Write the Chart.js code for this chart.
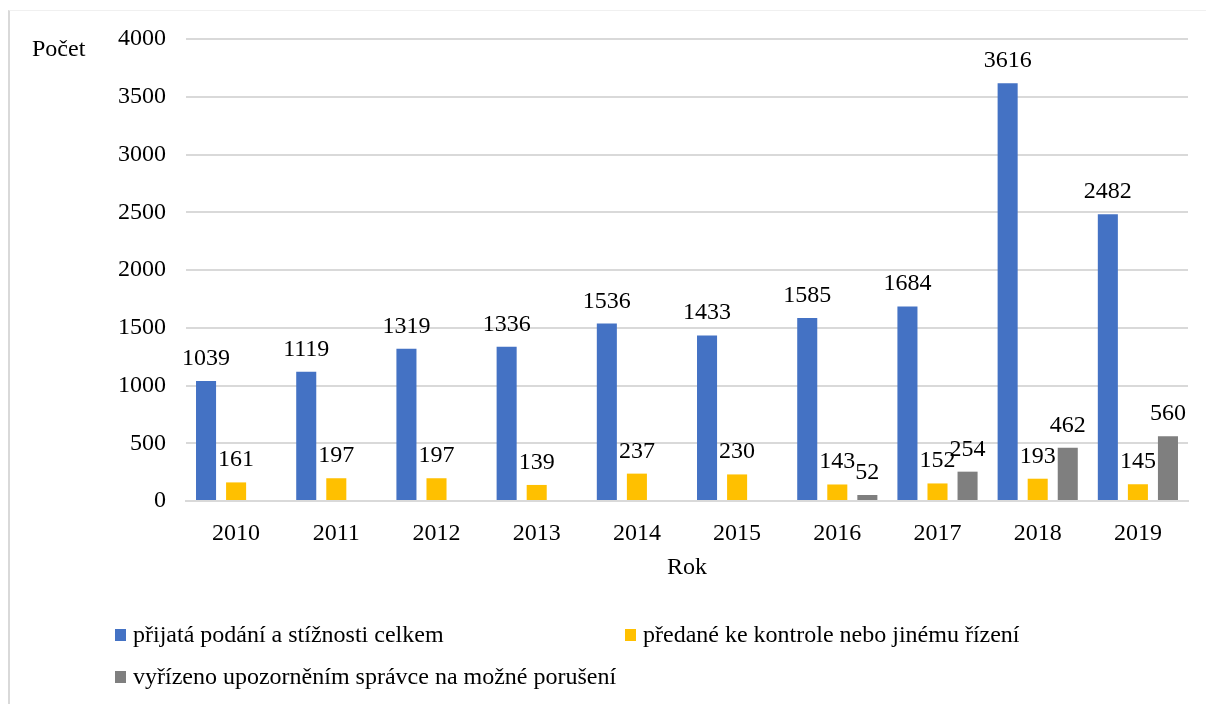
<!DOCTYPE html>
<html>
<head>
<meta charset="utf-8">
<script src="https://cdn.jsdelivr.net/npm/chart.js@4/dist/chart.umd.min.js"></script>
<style>
  html, body { margin: 0; padding: 0; background: #fff; }
  #wrap { position: relative; width: 1206px; height: 704px; }
  #frame { position: absolute; left: 8px; top: 10px; width: 1198px; height: 694px;
           border-left: 2px solid #d9d9d9; border-top: 1px solid #f0f0f0; box-sizing: border-box; }
  canvas { position: absolute; left: 0; top: 0; }
</style>
</head>
<body>
<div id="wrap">
  <div id="frame"></div>
  <canvas id="c" width="1206" height="704"></canvas>
</div>
<script>
const years = ['2010', '2011', '2012', '2013', '2014', '2015', '2016', '2017', '2018', '2019'];
const received = [1039, 1119, 1319, 1336, 1536, 1433, 1585, 1684, 3616, 2482];
const forwarded = [161, 197, 197, 139, 237, 230, 143, 152, 193, 145];
const warned = [null, null, null, null, null, null, 52, 254, 462, 560];
const seriesNames = [
  'přijatá podání a stížnosti celkem',
  'předané ke kontrole nebo jinému řízení',
  'vyřízeno upozorněním správce na možné porušení'
];
const yTicks = [0, 500, 1000, 1500, 2000, 2500, 3000, 3500, 4000];

const FONT = "'Liberation Serif', 'Times New Roman', serif";
const FS = 24;

// Value labels above each bar, legend and the y caption
const annotate = {
  id: 'annotate',
  afterDatasetsDraw(chart) {
    const ctx = chart.ctx;
    ctx.save();
    ctx.font = FS + 'px ' + FONT;
    ctx.fillStyle = '#000';
    ctx.textAlign = 'center';
    ctx.textBaseline = 'alphabetic';
    chart.data.datasets.forEach((ds, i) => {
      const meta = chart.getDatasetMeta(i);
      meta.data.forEach((bar, j) => {
        const v = ds.data[j];
        if (v === null || v === undefined) return;
        ctx.fillText(String(v), bar.x, bar.y - 16);
      });
    });

    // y caption
    ctx.textAlign = 'left';
    ctx.textBaseline = 'middle';
    ctx.fillText('Počet', 32, 50);

    // legend
    const pos = [[115, 635], [625, 635], [115, 677]];
    chart.data.datasets.forEach((ds, i) => {
      const [x, y] = pos[i];
      ctx.fillStyle = ds.backgroundColor;
      ctx.fillRect(x, y - 6, 11, 12);
      ctx.fillStyle = '#000';
      ctx.fillText(ds.label, x + 18, y + 1);
    });
    ctx.restore();
  }
};

new Chart(document.getElementById('c'), {
  type: 'bar',
  data: {
    labels: years,
    datasets: [
      { label: seriesNames[0], data: received, backgroundColor: '#4472C4' },
      { label: seriesNames[1], data: forwarded, backgroundColor: '#FFC000' },
      { label: seriesNames[2], data: warned, backgroundColor: '#7F7F7F' }
    ]
  },
  options: {
    responsive: false,
    animation: false,
    devicePixelRatio: 1,
    layout: { padding: { left: 0, right: 18, top: 39, bottom: 118 } },
    datasets: { bar: { categoryPercentage: 0.9, barPercentage: 0.667 } },
    plugins: { legend: { display: false }, tooltip: { enabled: false } },
    scales: {
      x: {
        grid: { display: false, drawTicks: false },
        border: { display: true, color: '#d9d9d9', width: 2 },
        ticks: { color: '#000', font: { family: FONT, size: FS }, padding: 18 },
        title: { display: true, text: 'Rok', color: '#000', font: { family: FONT, size: FS }, padding: { top: 6 } },
        afterFit(scale) { scale.height = 85; }
      },
      y: {
        min: 0, max: 4000,
        afterBuildTicks(scale) { scale.ticks = yTicks.map(v => ({ value: v })); },
        grid: { color: '#d9d9d9', lineWidth: 2, drawTicks: false },
        border: { display: false },
        ticks: { color: '#000', font: { family: FONT, size: FS }, padding: 20,
                 callback: v => String(v) },
        afterFit(scale) { scale.width = 186; }
      }
    }
  },
  plugins: [annotate]
});
</script>
</body>
</html>
